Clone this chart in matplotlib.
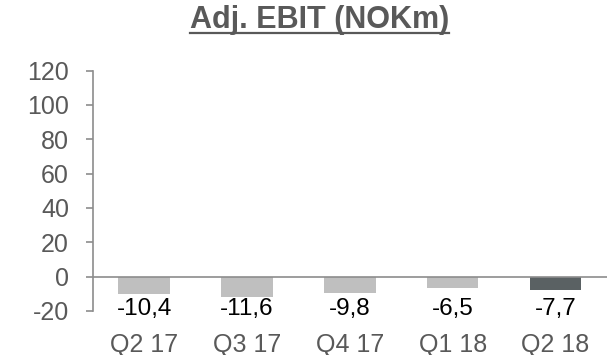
import matplotlib.pyplot as plt
from matplotlib.lines import Line2D

quarters = ["Q2 17", "Q3 17", "Q4 17", "Q1 18", "Q2 18"]
adj_ebit = [-10.4, -11.6, -9.8, -6.5, -7.7]
y_ticks = [-20, 0, 20, 40, 60, 80, 100, 120]

plt.rcParams["font.family"] = ["Liberation Sans", "DejaVu Sans"]
plt.rcParams["axes.unicode_minus"] = False

LIGHT = "#bfbfbf"
DARK = "#5a6163"
TEXT_GREY = "#595959"
AXIS_GREY = "#8c8c8c"

fig = plt.figure(figsize=(6.1, 3.55), dpi=100)
ax = fig.add_axes([0.152, 0.124, 0.843, 0.677])

colors = [LIGHT] * (len(quarters) - 1) + [DARK]
x = range(len(quarters))
ax.bar(x, adj_ebit, width=0.5, color=colors, zorder=2)
ax.axhline(0, color=AXIS_GREY, lw=1.2, zorder=3)

# value labels sit on a common baseline under the bars
for i, v in enumerate(adj_ebit):
    ax.text(i, -22.3, f"{v:.1f}".replace(".", ","), ha="center", va="baseline",
            fontsize=17.5, color="black")

ax.set_xlim(-0.5, len(quarters) - 0.5)
ax.set_ylim(-20, 120)
ax.set_yticks(y_ticks)
ax.set_xticks(list(x))
ax.set_xticklabels(quarters)

for s in ["top", "right", "bottom"]:
    ax.spines[s].set_visible(False)
ax.spines["left"].set_color(AXIS_GREY)
ax.spines["left"].set_linewidth(1.2)

ax.tick_params(axis="y", length=5, width=1.2, color=AXIS_GREY, pad=12,
               labelsize=18, labelcolor=TEXT_GREY)
ax.tick_params(axis="x", length=0, pad=15.5, labelsize=18, labelcolor=TEXT_GREY)

title = fig.text(0.524, 1 - 28 / 355, "Adj. EBIT (NOKm)", ha="center", va="baseline",
                 fontsize=22, fontweight="bold", color=TEXT_GREY)

# underline the title across its rendered width
fig.canvas.draw()
bb = title.get_window_extent().transformed(fig.transFigure.inverted())
uy = 1 - 32.5 / 355
fig.add_artist(Line2D([bb.x0, bb.x1], [uy, uy],
                      transform=fig.transFigure, color=TEXT_GREY, lw=1.6))

fig.savefig("out.png", dpi=100)
